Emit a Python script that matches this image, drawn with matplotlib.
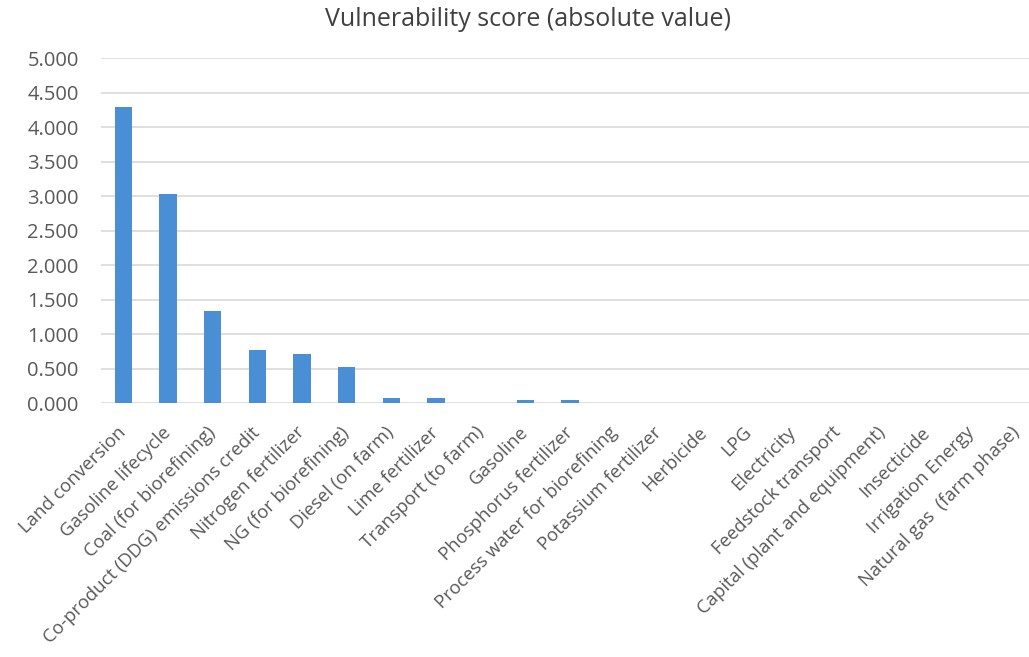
import numpy as np
import matplotlib
matplotlib.use('Agg')
import matplotlib.pyplot as plt

categories = ['Land conversion', 'Gasoline lifecycle', 'Coal (for biorefining)',
              'Co-product (DDG) emissions credit', 'Nitrogen fertilizer',
              'NG (for biorefining)', 'Diesel (on farm)', 'Lime fertilizer',
              'Transport (to farm)', 'Gasoline', 'Phosphorus fertilizer',
              'Process water for biorefining', 'Potassium fertilizer', 'Herbicide',
              'LPG', 'Electricity', 'Feedstock transport',
              'Capital (plant and equipment)', 'Insecticide', 'Irrigation Energy',
              'Natural gas  (farm phase)']
scores = [4.30, 3.03, 1.34, 0.77, 0.71, 0.53, 0.077, 0.077, 0.0, 0.043, 0.043,
          0.0, 0.0, 0.0, 0.0, 0.0, 0.0, 0.0, 0.0, 0.0, 0.0]
yticks = [0, 0.5, 1.0, 1.5, 2.0, 2.5, 3.0, 3.5, 4.0, 4.5, 5.0]

plt.rcParams['font.family'] = ['Open Sans', 'DejaVu Sans']
text_color = '#595959'

fig = plt.figure(figsize=(10.29, 6.57), dpi=100)
ax = fig.add_axes([101 / 1029, 1 - 403.3 / 657, 938 / 1029, 345 / 657])

x = np.arange(len(categories))
ax.bar(x, scores, width=0.39, color='#4a8fd6', zorder=3)

ax.set_xlim(-0.5, len(categories) - 0.5)
ax.set_ylim(0, 5)
ax.set_yticks(yticks)
ax.set_yticklabels([f'{v:.3f}' for v in yticks], fontsize=14.5, color=text_color)
ax.set_xticks(x)
ax.set_xticklabels(categories, rotation=45, ha='right', va='center',
                   rotation_mode='anchor', fontsize=13.3, color=text_color)
ax.tick_params(axis='y', length=0, pad=16)
ax.tick_params(axis='x', length=0, pad=19)
ax.grid(True, axis='y', color='#d9d9d9', linewidth=1.2, zorder=0)
for s in ax.spines.values():
    s.set_visible(False)

fig.text(528 / 1029, 1 - 20 / 657, 'Vulnerability score (absolute value)',
         ha='center', va='center', fontsize=18, color='#404040')

fig.savefig('out.png', dpi=100)
